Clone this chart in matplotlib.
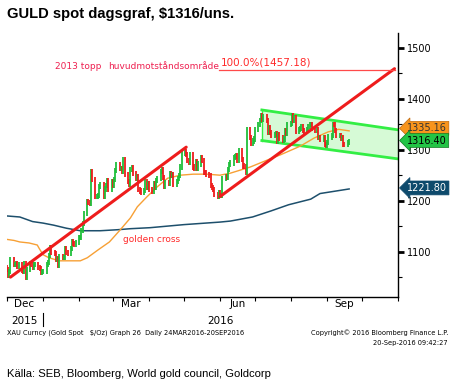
import numpy as np
import pandas as pd
import matplotlib
matplotlib.use("Agg")
import matplotlib.pyplot as plt
from matplotlib.transforms import blended_transform_factory
from matplotlib.lines import Line2D

# =============================
# Data (daily closes)
# =============================
dec15 = [1065, 1053, 1061, 1085, 1075, 1075, 1076, 1071, 1075, 1063, 1062, 1076,
         1050, 1065, 1077, 1074, 1069, 1075, 1075, 1068, 1067, 1060, 1061]
jan16 = [1061, 1075, 1078, 1092, 1108, 1098, 1096, 1085, 1087, 1073, 1090, 1088,
         1089, 1106, 1098, 1097, 1107, 1120, 1116, 1114, 1118]
feb16 = [1128, 1128, 1141, 1156, 1174, 1198, 1196, 1194, 1258, 1242, 1208, 1209,
         1211, 1227, 1231, 1208, 1223, 1229, 1240, 1222, 1238]
mar16 = [1230, 1241, 1259, 1270, 1263, 1264, 1257, 1280, 1252, 1237, 1232, 1262,
         1265, 1254, 1244, 1248, 1222, 1219, 1217, 1220, 1238, 1226, 1233]
apr16 = [1222, 1218, 1234, 1226, 1239, 1243, 1258, 1261, 1245, 1228, 1235, 1234,
         1253, 1249, 1251, 1232, 1237, 1243, 1250, 1266, 1293]
may16 = [1297, 1290, 1279, 1275, 1290, 1266, 1264, 1276, 1264, 1272, 1284, 1278,
         1256, 1255, 1252, 1249, 1229, 1225, 1222, 1212, 1208, 1215]
jun16 = [1211, 1210, 1243, 1247, 1245, 1262, 1271, 1274, 1284, 1286, 1288, 1278,
         1298, 1280, 1268, 1267, 1256, 1340, 1324, 1312, 1317, 1321]
jul16 = [1340, 1350, 1358, 1367, 1359, 1366, 1357, 1334, 1344, 1333, 1327, 1330,
         1332, 1317, 1330, 1323, 1318, 1321, 1338, 1332, 1350]
aug16 = [1352, 1367, 1357, 1363, 1336, 1339, 1341, 1346, 1337, 1335, 1339, 1346,
         1349, 1350, 1341, 1338, 1340, 1324, 1324, 1321, 1324, 1311, 1309]
sep16 = [1314, 1325, 1327, 1350, 1349, 1337, 1328, 1328, 1322, 1323, 1311, 1310,
         1314, 1316.4]

closes = dec15 + jan16 + feb16 + mar16 + apr16 + may16 + jun16 + jul16 + aug16 + sep16
dates = pd.bdate_range("2015-12-01", "2016-09-20")
opens = [1068] + closes[:-1]

# moving averages
ma50_dates = ["2015-12-01", "2015-12-07", "2015-12-12", "2015-12-20", "2015-12-27",
              "2015-12-29", "2016-01-01", "2016-01-06", "2016-01-15", "2016-02-02",
              "2016-02-08", "2016-02-17", "2016-02-27", "2016-03-07", "2016-03-16",
              "2016-03-22", "2016-03-30", "2016-04-08", "2016-04-17", "2016-04-28",
              "2016-05-09", "2016-05-21", "2016-06-01", "2016-06-10", "2016-06-27",
              "2016-07-12", "2016-07-23", "2016-08-09", "2016-08-21", "2016-09-02",
              "2016-09-11", "2016-09-20"]
ma50_vals = [1124, 1122, 1119, 1117, 1113, 1105, 1094, 1088, 1082, 1082,
             1088, 1103, 1119, 1142, 1166, 1188, 1207, 1227, 1244, 1250,
             1252, 1252, 1250, 1254, 1266, 1280, 1290, 1307, 1323, 1335,
             1340, 1337]

ma200_dates = ["2015-12-01", "2015-12-12", "2015-12-23", "2016-01-01", "2016-01-10",
               "2016-01-21", "2016-02-02", "2016-02-19", "2016-03-05", "2016-03-16",
               "2016-04-02", "2016-05-01", "2016-06-01", "2016-06-10", "2016-06-29",
               "2016-07-15", "2016-07-30", "2016-08-18", "2016-08-26", "2016-09-20"]
ma200_vals = [1170, 1168, 1159, 1156, 1152, 1146, 1141, 1141, 1143, 1145,
              1147, 1153, 1158, 1160, 1168, 1180, 1192, 1203, 1214, 1223]

# trend lines / channel
trend1 = (["2015-12-04", "2016-05-03"], [1050, 1305])
trend2 = (["2016-06-01", "2016-10-29"], [1208, 1459])
chan_x = ["2016-07-07", "2016-11-01"]
chan_upper = [1378, 1339]
chan_lower = [1318, 1282]
fib_level = 1457.18

# =============================
# Figure
# =============================
fig = plt.figure(figsize=(4.58, 3.85), dpi=100)
W, H = 458, 385
ax = fig.add_axes([7 / W, 1 - 297 / H, 391 / W, 264 / H])

GREEN = "#1fbf3a"
RED = "#ee1c1c"

# channel
cx = pd.to_datetime(chan_x)
ax.fill_between(cx, chan_lower, chan_upper, color="#d6fad6", zorder=1, lw=0)
ax.plot(cx, chan_upper, color="#33ee44", lw=2, zorder=2)
ax.plot(cx, chan_lower, color="#33ee44", lw=2, zorder=2)
ax.plot([cx[0], cx[0]], [chan_lower[0], chan_upper[0]], color="#33ee44", lw=1, zorder=2)

# moving averages
ax.plot(pd.to_datetime(ma200_dates), ma200_vals, color="#1d4f6c", lw=1.1, zorder=3)
ax.plot(pd.to_datetime(ma50_dates), ma50_vals, color="#f7a035", lw=1.0, zorder=3)

# candles
for d, o, c in zip(dates, opens, closes):
    col = GREEN if c >= o else RED
    ax.vlines(d, min(o, c) - 5, max(o, c) + 5, color=col, lw=1.3, zorder=4)

# trend lines
ax.plot(pd.to_datetime(trend1[0]), trend1[1], color=RED, lw=2.2, zorder=5,
        solid_capstyle="round")
ax.plot(pd.to_datetime(trend2[0]), trend2[1], color=RED, lw=2.2, zorder=5,
        solid_capstyle="round")
ax.plot(pd.to_datetime(["2016-05-31", "2016-10-29"]), [fib_level, fib_level],
        color="#ff4a4a", lw=0.9, zorder=5)

# annotations
ax.text(pd.Timestamp("2016-01-11"), 1463, "2013 topp", color="#ee2050",
        fontsize=6.5, va="center")
ax.text(pd.Timestamp("2016-02-26"), 1463, "huvudmotståndsområde", color="#ee2050",
        fontsize=6.5, va="center")
ax.text(pd.Timestamp("2016-06-02"), 1471, "100.0%(1457.18)", color="#ff2a2a",
        fontsize=7.5, va="center")
ax.text(pd.Timestamp("2016-03-10"), 1123, "golden cross", color="#ff2a2a",
        fontsize=6.5, va="center")

# axes limits and styling
ax.set_xlim(pd.Timestamp("2015-12-01"), pd.Timestamp("2016-11-01"))
ax.set_ylim(1011, 1529)
for s in ["left", "top"]:
    ax.spines[s].set_visible(False)
ax.spines["right"].set_linewidth(1)
ax.spines["bottom"].set_linewidth(1)

ax.yaxis.tick_right()
ax.set_yticks([1100, 1200, 1300, 1400, 1500])
ax.set_yticks([1050, 1150, 1250, 1350, 1450], minor=True)
ax.tick_params(axis="y", which="major", length=4.5, width=2, pad=2,
               labelsize=7, colors="black")
ax.tick_params(axis="y", which="minor", length=3, width=0.8)

month_starts = pd.date_range("2015-12-01", "2016-11-01", freq="MS")
ax.set_xticks(month_starts)
ax.set_xticklabels([])
lab_dates = pd.to_datetime(["2015-12-16", "2016-03-16", "2016-06-16", "2016-09-16"])
ax.set_xticks(lab_dates, minor=True)
ax.set_xticklabels(["Dec", "Mar", "Jun", "Sep"], minor=True)
ax.tick_params(axis="x", which="major", length=3, width=0.8)
ax.tick_params(axis="x", which="minor", length=0, labelsize=7.5, pad=1.5)

# year labels
tr = blended_transform_factory(ax.transData, fig.transFigure)
ax.text(pd.Timestamp("2015-12-16"), 1 - 321 / H, "2015", transform=tr,
        ha="center", va="center", fontsize=7.5)
ax.text(pd.Timestamp("2016-06-01"), 1 - 321 / H, "2016", transform=tr,
        ha="center", va="center", fontsize=7.5)
ax.add_line(Line2D([pd.Timestamp("2016-01-01")] * 2, [1 - 313 / H, 1 - 326 / H],
                   transform=tr, color="black", lw=0.8, clip_on=False))

# right-side value boxes
trb = blended_transform_factory(ax.transAxes, ax.transData)
bx = (407 - 7) / 391
ax.text(bx, 1342, "1335.16", transform=trb, fontsize=7, va="center", ha="left",
        color="#333333", zorder=6,
        bbox=dict(boxstyle="larrow,pad=0.2", fc="#f7941d", ec="#c06a10", lw=0.5))
ax.text(bx, 1318, "1316.40", transform=trb, fontsize=7, va="center", ha="left",
        color="black", zorder=7,
        bbox=dict(boxstyle="larrow,pad=0.2", fc="#22c445", ec="#117722", lw=0.5))
ax.text(bx, 1225, "1221.80", transform=trb, fontsize=7, va="center", ha="left",
        color="white", zorder=6,
        bbox=dict(boxstyle="larrow,pad=0.2", fc="#0e4a6c", ec="#0e4a6c", lw=0.5))

# titles / footers
title_fonts = ["Liberation Sans", "DejaVu Sans"]
fig.text(7 / W, 1 - 14 / H, "GULD spot dagsgraf, $1316/uns.", fontsize=10.6,
         fontweight="bold", family=title_fonts, va="center", parse_math=False)
fig.text(7 / W, 1 - 333 / H,
         "XAU Curncy (Gold Spot   $/Oz) Graph 26  Daily 24MAR2016-20SEP2016",
         fontsize=4.8, va="center", parse_math=False)
fig.text(448 / W, 1 - 333 / H, "Copyright© 2016 Bloomberg Finance L.P.",
         fontsize=4.8, va="center", ha="right")
fig.text(448 / W, 1 - 343 / H, "20-Sep-2016 09:42:27",
         fontsize=4.8, va="center", ha="right")
fig.text(7 / W, 1 - 374 / H, "Källa: SEB, Bloomberg, World gold council, Goldcorp",
         fontsize=8.1, family=title_fonts, va="center")

fig.savefig("out.png", dpi=100)
